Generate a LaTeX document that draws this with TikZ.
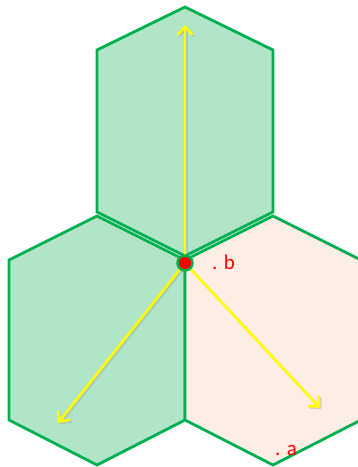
\documentclass[tikz,border=0pt]{standalone}
\usepackage{fontspec}
\setmainfont{Carlito}
\usetikzlibrary{arrows.meta}
\definecolor{hexline}{RGB}{0,176,80}
\definecolor{hexgreen}{RGB}{176,229,200}
\definecolor{hexpink}{RGB}{252,238,228}
\definecolor{arrowyellow}{RGB}{255,255,0}
\tikzset{
  hexg/.style={draw=hexline, fill=hexgreen, line width=2.8pt, line join=miter},
  hexp/.style={draw=hexline, fill=hexpink, line width=2.8pt, line join=miter},
  vec/.style={draw=arrowyellow, line width=2.6pt, -{Straight Barb[length=8pt,width=15pt,line width=2.6pt]}},
  vecshadow/.style={draw=black!40, opacity=0.35, line width=2.6pt, -{Straight Barb[length=8pt,width=15pt,line width=2.6pt]}},
  lbl/.style={text=red, font=\fontsize{21}{23}\selectfont, inner sep=0pt}
}
\begin{document}
\begin{tikzpicture}[x=1pt,y=-1pt]
\useasboundingbox (0,0) rectangle (357,467);
% bottom-left hexagon
\path[hexg] (97,216) -- (185,260) -- (185,420) -- (97,465) -- (9,420) -- (9,260) -- cycle;
% bottom-right hexagon
\path[hexp] (273,216) -- (361,260) -- (361,420) -- (273,465) -- (185,420) -- (185,260) -- cycle;
% top hexagon
\path[hexg] (185,7) -- (273,50) -- (273,212) -- (185,256) -- (97,212) -- (97,50) -- cycle;
% vectors
\coordinate (c) at (185,263);
\coordinate (tu) at (185,25);
\coordinate (tl) at (58,423);
\coordinate (tr) at (320,408);
\draw[vecshadow] ([shift={(1.5,1.5)}]c) -- ([shift={(1.5,1.5)}]tu);
\draw[vecshadow] ([shift={(1.5,1.5)}]c) -- ([shift={(1.5,1.5)}]tl);
\draw[vecshadow] ([shift={(1.5,1.5)}]c) -- ([shift={(1.5,1.5)}]tr);
\draw[vec] (c) -- (tu);
\draw[vec] (c) -- (tl);
\draw[vec] (c) -- (tr);
% centre point
\node[circle, fill=red, draw=hexline, line width=2.5pt, minimum size=15pt, inner sep=0pt] (dot) at (c) {};
\node[lbl, anchor=base west] (b) at (212,269) {. b};
\node[lbl, anchor=base west] (a) at (275,455) {. a};
\end{tikzpicture}
\end{document}
